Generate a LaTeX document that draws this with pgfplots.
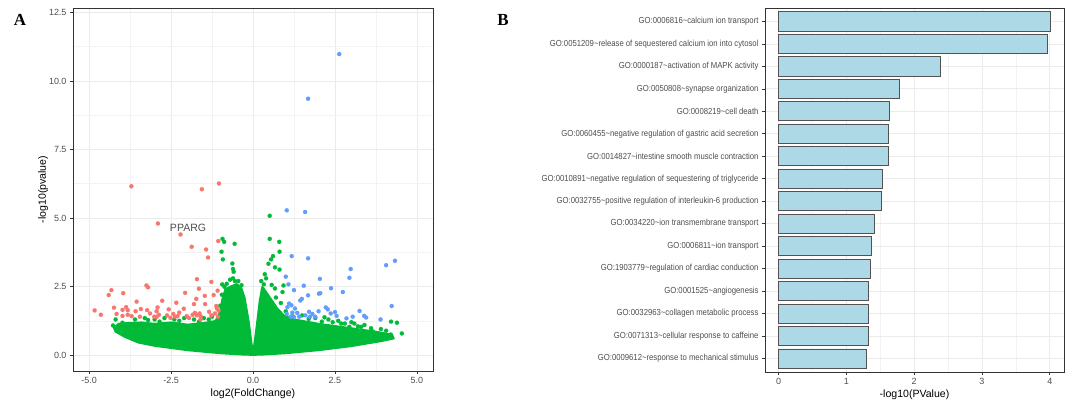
\documentclass[border=0pt]{standalone}
\usepackage{pgfplots}
\pgfplotsset{compat=1.18}
\usepackage{fontspec}
\setmainfont{Liberation Sans}
\newfontfamily\panelfont{Liberation Serif}
\newfontfamily\narrowfont[FakeStretch=0.88]{Liberation Sans}

\definecolor{gred}{HTML}{F8766D}
\definecolor{ggreen}{HTML}{00BA38}
\definecolor{gblue}{HTML}{619CFF}
\definecolor{gridmaj}{HTML}{EBEBEB}
\definecolor{gridmin}{HTML}{F3F3F3}
\definecolor{frame}{HTML}{333333}
\definecolor{ticktext}{HTML}{4D4D4D}
\definecolor{barfill}{HTML}{ADD8E6}

\pgfplotsset{ggbw/.style={
  scale only axis,
  axis line style={frame, line width=0.9bp},
  grid=both,
  major grid style={gridmaj, line width=0.8bp},
  minor grid style={gridmin, line width=0.5bp},
  tick style={frame, line width=0.7bp},
  major tick length=3bp, minor tick length=0pt,
  tick align=outside,
  xtick pos=left, ytick pos=left,
  tick label style={font=\fontsize{9}{10}\selectfont, text=ticktext},
  label style={font=\fontsize{10.6}{12}\selectfont, text=black},
  /pgf/number format/assume math mode=true,
},
dots/.style={only marks, mark=*, mark size=2.1bp, color=#1, mark options={solid, fill=#1, draw=#1, line width=0.1bp}}}

\begin{document}
\begin{tikzpicture}
\path[use as bounding box] (0,0) rectangle (1070bp,404bp);

% panel A: volcano plot
\begin{axis}[ggbw, at={(73bp,33bp)}, anchor=south west, width=360bp, height=363bp,
  xmin=-5.49, xmax=5.49, ymin=-0.58, ymax=12.66,
  xtick={-5,-2.5,0,2.5,5}, ytick={0,2.5,5,7.5,10,12.5}, minor tick num=1,
  xticklabel style={/pgf/number format/.cd, fixed, fixed zerofill, precision=1},
  yticklabel style={/pgf/number format/.cd, fixed, fixed zerofill, precision=1},
  xlabel={log2(FoldChange)}, ylabel={-log10(pvalue)},
  xlabel style={yshift=2bp}, ylabel style={yshift=-6bp},
]
% dense cloud of non-significant genes
\addplot[draw=ggreen, fill=ggreen, line width=1.5bp, line join=round] coordinates {
(-4.25,1.0) (-4.1,1.15) (-3.8,1.18) (-3.4,1.2) (-3.0,1.15) (-2.5,1.2) (-2.0,1.12)
(-1.5,1.18) (-1.15,1.25) (-1.0,1.6) (-0.95,2.0) (-0.85,2.4) (-0.7,2.5) (-0.5,2.6)
(-0.35,2.45) (-0.25,2.1) (-0.12,1.2) (-0.03,0.35) (0.03,0.35) (0.12,1.2) (0.2,2.0)
(0.28,2.5) (0.38,2.35) (0.55,2.05) (0.75,1.7) (0.95,1.45) (1.3,1.3) (2.0,1.15)
(2.8,1.02) (3.4,0.92) (3.8,0.85) (4.25,0.75) (4.3,0.6) (3.9,0.5) (3.5,0.42) (3.0,0.32) (2.0,0.17)
(1.0,0.06) (0.3,0.01) (0,0) (-0.3,0.01) (-1.0,0.06) (-2.0,0.17) (-3.0,0.33)
(-3.5,0.45) (-3.9,0.65) (-4.2,0.85)} --cycle;
\addplot[dots=ggreen] coordinates {
(-0.93,4.24) (-0.88,4.13) (-0.56,4.06) (-0.96,3.77) (-0.92,3.49) (-0.63,3.34)
(-0.61,3.14) (-0.59,3.04) (-0.61,2.80) (-0.55,2.70) (-0.94,2.58) (-0.87,2.49)
(-4.19,1.30) (-4.27,1.08) (-3.98,1.18) (-3.89,0.97)
(0.51,5.08) (0.51,4.24) (0.80,4.13) (0.81,3.77) (0.61,3.61) (0.55,3.49) (0.47,3.33)
(0.67,3.20) (0.81,3.12) (0.36,2.95) (0.40,2.80) (0.33,2.58) (0.57,2.56) (0.67,2.43)
(0.93,2.54) (0.90,2.30)
(4.54,0.79) (4.39,1.18) (4.21,1.22) (4.06,0.89) (3.81,0.79) (3.66,0.86) (3.30,1.03)
(3.09,1.15) (2.94,1.03) (2.69,1.15) (2.43,1.20) (2.18,1.38)
(-3.6,1.3) (-3.3,1.35) (-3.0,1.3) (-2.7,1.35) (-2.4,1.3) (-2.1,1.35) (-1.8,1.3)
(-1.5,1.35) (-1.25,1.4) (-1.0,1.8) (-0.95,2.2) (-0.8,2.6) (-0.7,2.75) (-0.45,2.7)
(-0.35,2.55) (0.25,2.7) (0.3,2.4) (0.7,2.1) (0.85,1.9) (1.0,1.6) (1.5,1.45)
(1.9,1.35) (2.3,1.3) (2.6,1.25) (3.0,1.2) (3.4,1.1) (3.9,0.95) (4.2,0.75)
(-3.2,1.28) (-2.85,1.22) (-2.25,1.25) (-1.65,1.22) (-1.35,1.3) (1.2,1.42) (1.7,1.32)
(2.1,1.22) (2.8,1.15) (3.2,1.05) (3.6,0.98)};
\addplot[dots=gred] coordinates {
(-3.71,6.16) (-1.56,6.05) (-1.04,6.26) (-2.90,4.80) (-2.21,4.40) (-1.87,3.95)
(-1.43,3.85) (-1.37,3.56) (-1.06,4.16) (-4.83,1.63) (-4.64,1.47) (-4.40,2.19)
(-4.32,2.37) (-3.96,2.26) (-4.24,1.73) (-4.16,1.50) (-3.98,1.65) (-3.98,1.43)
(-3.82,1.64) (-3.82,1.47) (-3.55,1.95) (-3.58,1.60) (-3.42,1.68) (-3.23,1.64)
(-3.45,1.40) (-3.25,2.54) (-3.20,2.47) (-2.94,1.60) (-2.91,1.74) (-2.87,1.47)
(-2.94,1.39) (-2.77,1.98) (-2.57,1.67) (-2.34,1.91) (-2.43,1.50) (-2.38,1.40)
(-2.30,1.42) (-2.11,1.69) (-2.07,2.27) (-1.80,1.86) (-1.73,2.05) (-1.71,2.77)
(-1.65,2.42) (-1.47,2.16) (-1.46,1.86) (-1.27,2.67) (-1.20,2.19) (-1.08,2.35)
(-1.12,1.79) (-1.77,1.54) (-1.71,1.45) (-1.63,1.52) (-1.59,1.41) (-1.84,1.47)
(-1.34,1.58) (-1.27,1.45) (-1.16,1.52) (-1.07,1.40) (-2.02,1.42) (-2.62,1.45)
(-2.52,1.36) (-3.01,1.40) (-3.14,1.52) (-3.70,1.42) (-3.87,1.75) (-1.05,1.62)
(-1.10,1.70) (-2.25,1.55) (-1.60,1.30) (-1.95,1.35)};
\addplot[dots=gblue] coordinates {
(2.63,10.98) (1.68,9.35) (1.03,5.28) (1.59,5.22) (1.18,3.61) (1.68,3.53) (4.06,3.28)
(4.33,3.44) (2.98,3.14) (2.94,2.82) (1.00,2.86) (2.04,2.78) (1.08,2.58) (1.55,2.53)
(1.25,2.37) (2.38,2.44) (2.74,2.30) (2.05,2.26) (2.01,2.24) (1.68,2.18) (1.49,2.05)
(1.44,1.99) (4.23,1.79) (1.10,1.88) (1.17,1.82) (1.28,1.70) (1.35,1.54) (1.15,1.40)
(1.03,1.50) (1.25,1.39) (1.41,1.40) (1.71,1.58) (1.81,1.50) (1.74,1.40) (2.22,1.74)
(2.28,1.67) (2.50,1.57) (2.37,1.52) (2.55,1.43) (2.85,1.34) (3.04,1.40) (3.25,1.61)
(3.39,1.43) (3.45,1.37) (3.89,1.30) (1.05,1.75) (1.20,1.55) (1.60,1.45) (2.00,1.60)
(1.90,1.40)};
\node[text=ticktext, font=\fontsize{10.6}{12}\selectfont] at (axis cs:-1.98,4.63) {PPARG};
\end{axis}

% panel B: GO terms
\begin{axis}[ggbw, at={(765bp,32bp)}, anchor=south west, width=299bp, height=364bp,
  xmin=-0.2, xmax=4.21, ymin=0.4, ymax=16.6,
  xtick={0,1,2,3,4}, minor x tick num=1, minor y tick num=0,
  ytick={1,...,16},
  yticklabel style={font=\narrowfont\fontsize{8.8}{9}\selectfont},
  yticklabels={
    {GO:0009612\textasciitilde response to mechanical stimulus},
    {GO:0071313\textasciitilde cellular response to caffeine},
    {GO:0032963\textasciitilde collagen metabolic process},
    {GO:0001525\textasciitilde angiogenesis},
    {GO:1903779\textasciitilde regulation of cardiac conduction},
    {GO:0006811\textasciitilde ion transport},
    {GO:0034220\textasciitilde ion transmembrane transport},
    {GO:0032755\textasciitilde positive regulation of interleukin-6 production},
    {GO:0010891\textasciitilde negative regulation of sequestering of triglyceride},
    {GO:0014827\textasciitilde intestine smooth muscle contraction},
    {GO:0060455\textasciitilde negative regulation of gastric acid secretion},
    {GO:0008219\textasciitilde cell death},
    {GO:0050808\textasciitilde synapse organization},
    {GO:0000187\textasciitilde activation of MAPK activity},
    {GO:0051209\textasciitilde release of sequestered calcium ion into cytosol},
    {GO:0006816\textasciitilde calcium ion transport}},
  xbar, bar width=0.85, bar shift=0pt,
  xlabel={-log10(PValue)}, xlabel style={yshift=2bp},
]
\addplot[fill=barfill, draw=frame!85, line width=0.9bp] coordinates {
(1.30,1) (1.33,2) (1.33,3) (1.33,4) (1.35,5) (1.37,6) (1.41,7) (1.52,8)
(1.53,9) (1.62,10) (1.62,11) (1.64,12) (1.78,13) (2.39,14) (3.97,15) (4.01,16)};
\end{axis}

\node[font=\panelfont\bfseries\fontsize{17}{17}\selectfont] at (20bp,384bp) {A};
\node[font=\panelfont\bfseries\fontsize{17}{17}\selectfont] at (503bp,384bp) {B};
\end{tikzpicture}
\end{document}
